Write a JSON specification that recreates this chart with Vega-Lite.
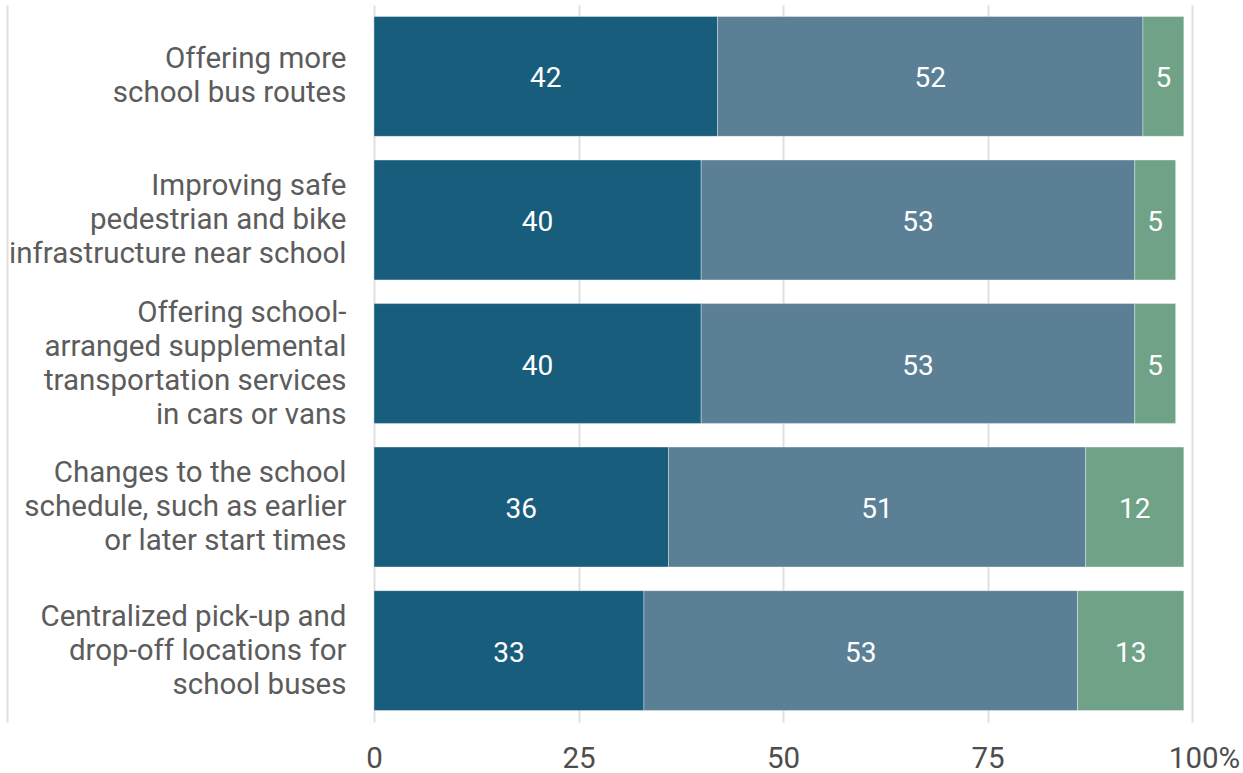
{
  "$schema": "https://vega.github.io/schema/vega-lite/v6.json",
  "width": 818,
  "height": 717,
  "autosize": {"type": "none"},
  "padding": {"left": 374, "top": 5, "right": 51, "bottom": 51},
  "background": "white",
  "config": {"view": {"stroke": null}, "font": "Roboto"},
  "data": {
    "values": [
      {"category": "Offering more|school bus routes", "series": "Very effective", "order": 1, "value": 42},
      {"category": "Offering more|school bus routes", "series": "Somewhat effective", "order": 2, "value": 52},
      {"category": "Offering more|school bus routes", "series": "Not effective", "order": 3, "value": 5},
      {"category": "Improving safe|pedestrian and bike|infrastructure near school", "series": "Very effective", "order": 1, "value": 40},
      {"category": "Improving safe|pedestrian and bike|infrastructure near school", "series": "Somewhat effective", "order": 2, "value": 53},
      {"category": "Improving safe|pedestrian and bike|infrastructure near school", "series": "Not effective", "order": 3, "value": 5},
      {"category": "Offering school-|arranged supplemental|transportation services|in cars or vans", "series": "Very effective", "order": 1, "value": 40},
      {"category": "Offering school-|arranged supplemental|transportation services|in cars or vans", "series": "Somewhat effective", "order": 2, "value": 53},
      {"category": "Offering school-|arranged supplemental|transportation services|in cars or vans", "series": "Not effective", "order": 3, "value": 5},
      {"category": "Changes to the school|schedule, such as earlier|or later start times", "series": "Very effective", "order": 1, "value": 36},
      {"category": "Changes to the school|schedule, such as earlier|or later start times", "series": "Somewhat effective", "order": 2, "value": 51},
      {"category": "Changes to the school|schedule, such as earlier|or later start times", "series": "Not effective", "order": 3, "value": 12},
      {"category": "Centralized pick-up and|drop-off locations for|school buses", "series": "Very effective", "order": 1, "value": 33},
      {"category": "Centralized pick-up and|drop-off locations for|school buses", "series": "Somewhat effective", "order": 2, "value": 53},
      {"category": "Centralized pick-up and|drop-off locations for|school buses", "series": "Not effective", "order": 3, "value": 13}
    ]
  },
  "transform": [
    {"stack": "value", "groupby": ["category"], "sort": [{"field": "order", "order": "ascending"}], "as": ["v0", "v1"]}
  ],
  "encoding": {
    "y": {
      "field": "category",
      "type": "nominal",
      "sort": null,
      "scale": {"paddingInner": 0.165, "paddingOuter": 0.08},
      "axis": {
        "title": null,
        "orient": "left",
        "offset": 367,
        "domain": true,
        "domainColor": "#dedede",
        "domainWidth": 2,
        "ticks": false,
        "labelPadding": -339,
        "labelAlign": "right",
        "labelBaseline": "middle",
        "labelFontSize": 29.5,
        "labelColor": "#5c5c5c",
        "labelLineHeight": 34,
        "labelLimit": 500,
        "labelExpr": "split(datum.label, '|')",
        "labelOffset": {
          "condition": [
            {"test": "length(split(datum.label, '|')) == 2", "value": -17},
            {"test": "length(split(datum.label, '|')) == 3", "value": -34},
            {"test": "length(split(datum.label, '|')) == 4", "value": -51}
          ],
          "value": 0
        }
      }
    }
  },
  "layer": [
    {
      "mark": {"type": "bar", "stroke": "white", "strokeOpacity": 0.35, "strokeWidth": 1},
      "encoding": {
        "x": {
          "field": "v0",
          "type": "quantitative",
          "scale": {"domain": [0, 100], "nice": false},
          "axis": {
            "title": null,
            "values": [0, 25, 50, 75, 100],
            "grid": true,
            "gridColor": "#e0e0e0",
            "gridWidth": 2,
            "domain": false,
            "ticks": false,
            "labelFontSize": 29.5,
            "labelColor": "#4d4d4d",
            "labelPadding": 22,
            "labelFlush": false,
            "labelOverlap": false,
            "labelExpr": "datum.value == 100 ? '100%' : datum.label",
            "labelOffset": {"condition": {"test": "datum.value == 100", "value": 12}, "value": 0}
          }
        },
        "x2": {"field": "v1"},
        "color": {
          "field": "series",
          "type": "nominal",
          "scale": {
            "domain": ["Very effective", "Somewhat effective", "Not effective"],
            "range": ["#185d7b", "#5b7f95", "#6fa287"]
          },
          "legend": null
        }
      }
    },
    {
      "transform": [
        {"fold": ["v0", "v1"], "as": ["edge", "pos"]}
      ],
      "mark": {"type": "text", "color": "white", "fontSize": 28, "baseline": "middle", "align": "center", "dy": 3},
      "encoding": {
        "x": {"aggregate": "mean", "field": "pos", "type": "quantitative"},
        "detail": {"field": "series", "type": "nominal"},
        "text": {"aggregate": "min", "field": "value", "type": "quantitative"}
      }
    }
  ]
}
